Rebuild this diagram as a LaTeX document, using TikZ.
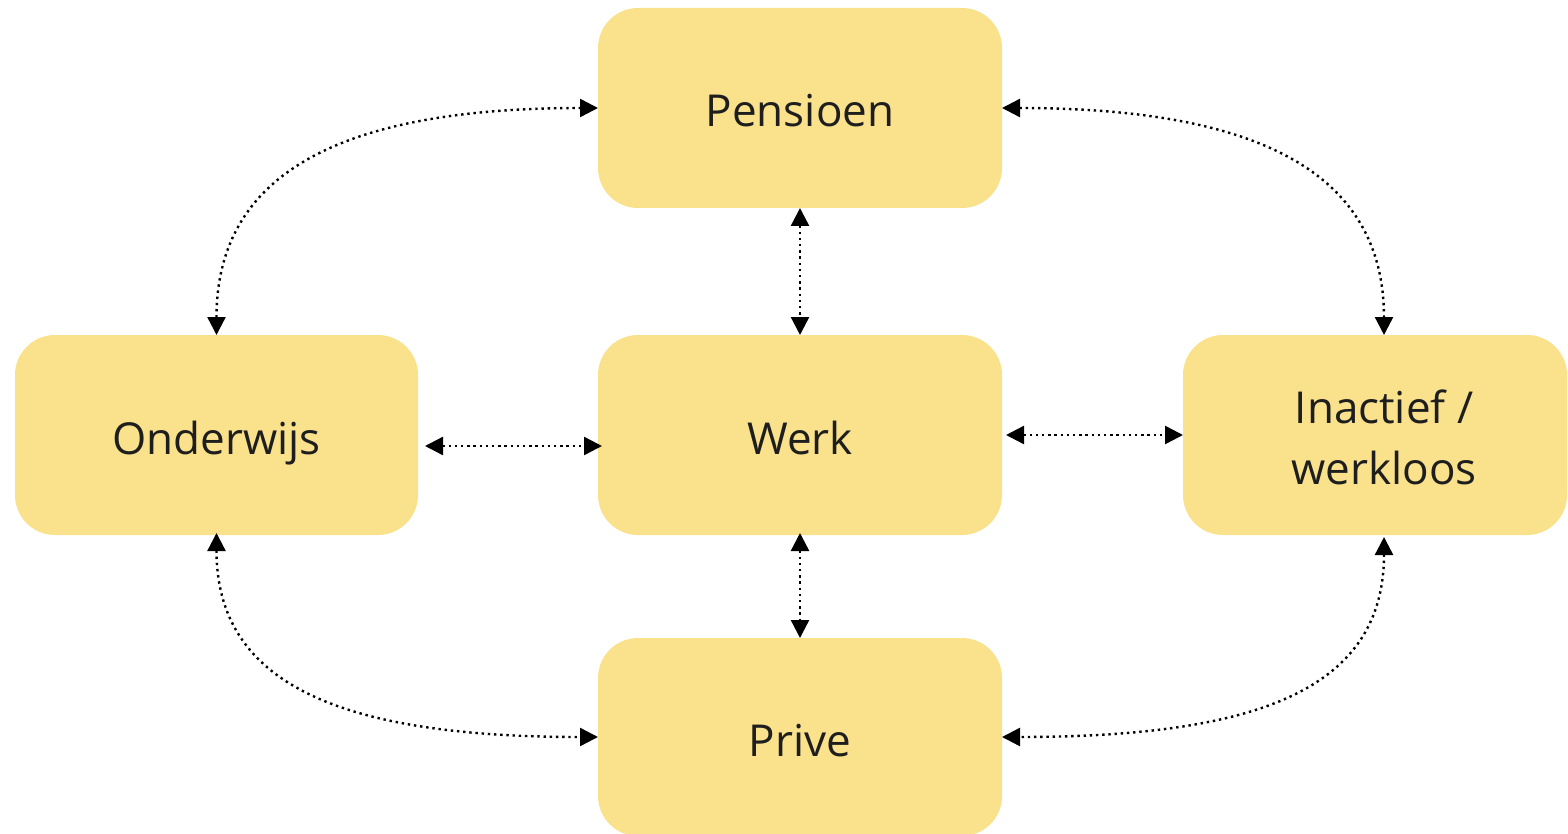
\documentclass[tikz,border=0pt]{standalone}
\usepackage{fontspec}
\setmainfont{Open Sans}
\usepackage{tikz}
\usetikzlibrary{positioning, arrows.meta}
\definecolor{Butter}{HTML}{FAE18B}
\definecolor{Ink}{HTML}{1E1E1E}

\begin{document}
\begin{tikzpicture}[
    x=1pt, y=-1pt,
    state/.style={fill=Butter, rounded corners=40pt, minimum width=404pt, minimum height=200pt, align=center, text=Ink, inner sep=0pt, outer sep=0pt, text height=38pt, text depth=0pt, font=\fontsize{44}{61}\selectfont},
    link/.style={{Triangle[length=18pt, width=18pt]}-{Triangle[length=18pt, width=18pt]}, line width=2.4pt, dash pattern=on 2.4pt off 3.8pt, color=black}
]
\useasboundingbox (0,0) rectangle (1568,834);

% States
\node[state] (pensioen) at (800,108) {Pensioen};
\node[state] (werk) at (800,435) {Werk};
\node[state, minimum width=403pt] (onderwijs) at (216.5,435) {Onderwijs};
\node[state, minimum width=384pt, text height=99pt] (inactief) at (1375,435) {\hspace*{18pt}Inactief /\\\hspace*{18pt}werkloos};
\node[state, minimum height=198pt] (prive) at (800,737) {Prive};

% Straight links
\draw[link] (pensioen.south) -- (werk.north);
\draw[link] ([yshift=2]werk.south) -- (prive.north);
\draw[link] ([shift={(7,11)}]onderwijs.east) -- ([shift={(4,11)}]werk.west);
\draw[link] ([xshift=4]werk.east) -- (inactief.west);

% Curved links
\draw[link] (onderwijs.north) .. controls +(0,-160) and +(-260,0) .. (pensioen.west);
\draw[link] (pensioen.east) .. controls +(260,0) and +(0,-160) .. ([xshift=9]inactief.north);
\draw[link] ([yshift=2]onderwijs.south) .. controls +(0,150) and +(-260,0) .. (prive.west);
\draw[link] ([shift={(9,2)}]inactief.south) .. controls +(0,150) and +(260,0) .. (prive.east);

\end{tikzpicture}
\end{document}
